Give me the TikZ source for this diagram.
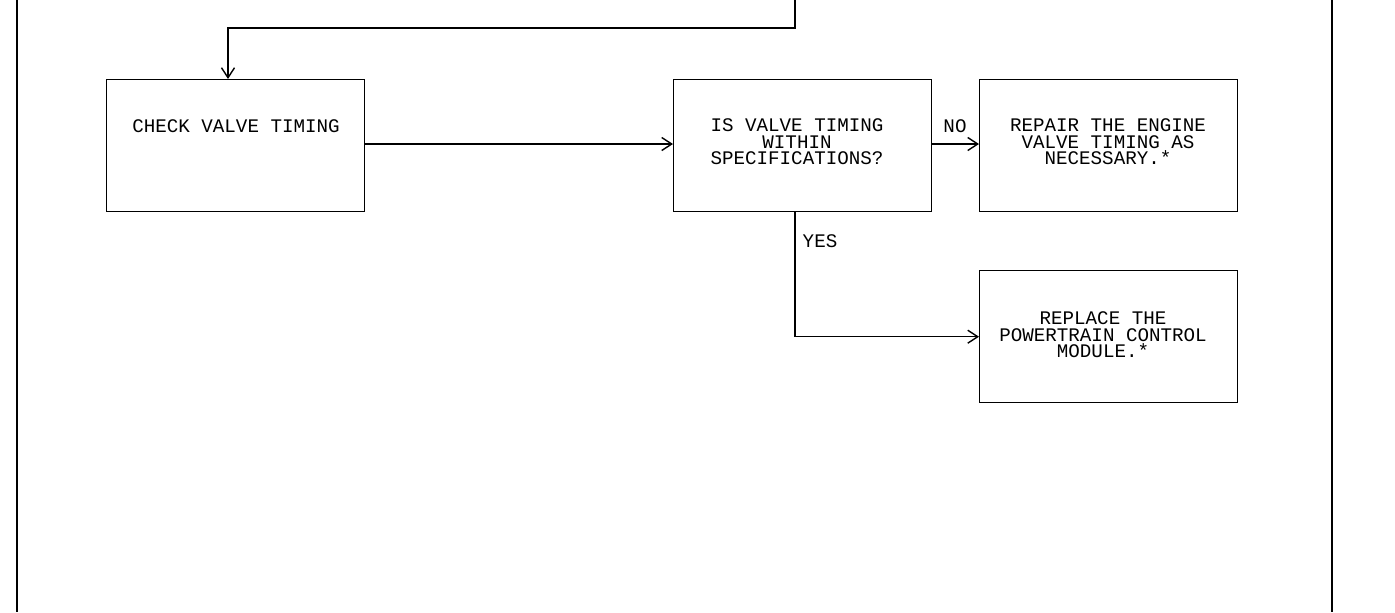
\documentclass[tikz,border=0pt]{standalone}
\usepackage{fontspec}
\setmonofont{Liberation Mono}
\usetikzlibrary{arrows.meta}
\begin{document}
\begin{tikzpicture}[x=0.5pt,y=-0.5pt,
  box/.style={draw, line width=0.7pt, minimum width=129pt, minimum height=66pt, inner sep=0pt, anchor=north west},
  txt/.style={font=\ttfamily\fontsize{9.6}{8.3}\selectfont, align=center, inner sep=0pt},
  lbl/.style={font=\ttfamily\fontsize{9.6}{8.3}\selectfont, inner sep=0pt},
  conn/.style={line width=0.7pt},
  arr/.style={conn, -{Straight Barb[length=5pt,width=6.5pt]}},
  border/.style={line width=1pt}]
\useasboundingbox (0,0) rectangle (1395,612);
\draw[border] (17,0) -- (17,612);
\draw[border] (1332,0) -- (1332,612);
% boxes
\node[box] (b1) at (106,79) {};
\node[box] (b2) at (673,79) {};
\node[box] (b3) at (979,79) {};
\node[box] (b4) at (979,270) {};
% texts
\node[txt] (t1) at (236,126) {CHECK VALVE TIMING};
\node[txt] (t2) at (797,142) {IS VALVE TIMING\\WITHIN\\SPECIFICATIONS?};
\node[txt] (t3) at (1108,142) {REPAIR THE ENGINE\\VALVE TIMING AS\\NECESSARY.*};
\node[txt] (t4) at (1103,335) {REPLACE THE\\POWERTRAIN CONTROL\\MODULE.*};
% connectors
\coordinate (top) at (795,0);
\draw[arr] (top) -- (795,28) -| (b1.north west -| 228,79);
\draw[arr] (b1.east |- 0,144) -- (b2.west |- 0,144);
\draw[arr] (b2.east |- 0,144) -- (b3.west |- 0,144);
\draw[arr] (b2.south -| 795,0) |- (b4.west);
% labels
\node[lbl] (no) at (955,126) {NO};
\node[lbl] (yes) at (820,241) {YES};
\end{tikzpicture}
\end{document}
